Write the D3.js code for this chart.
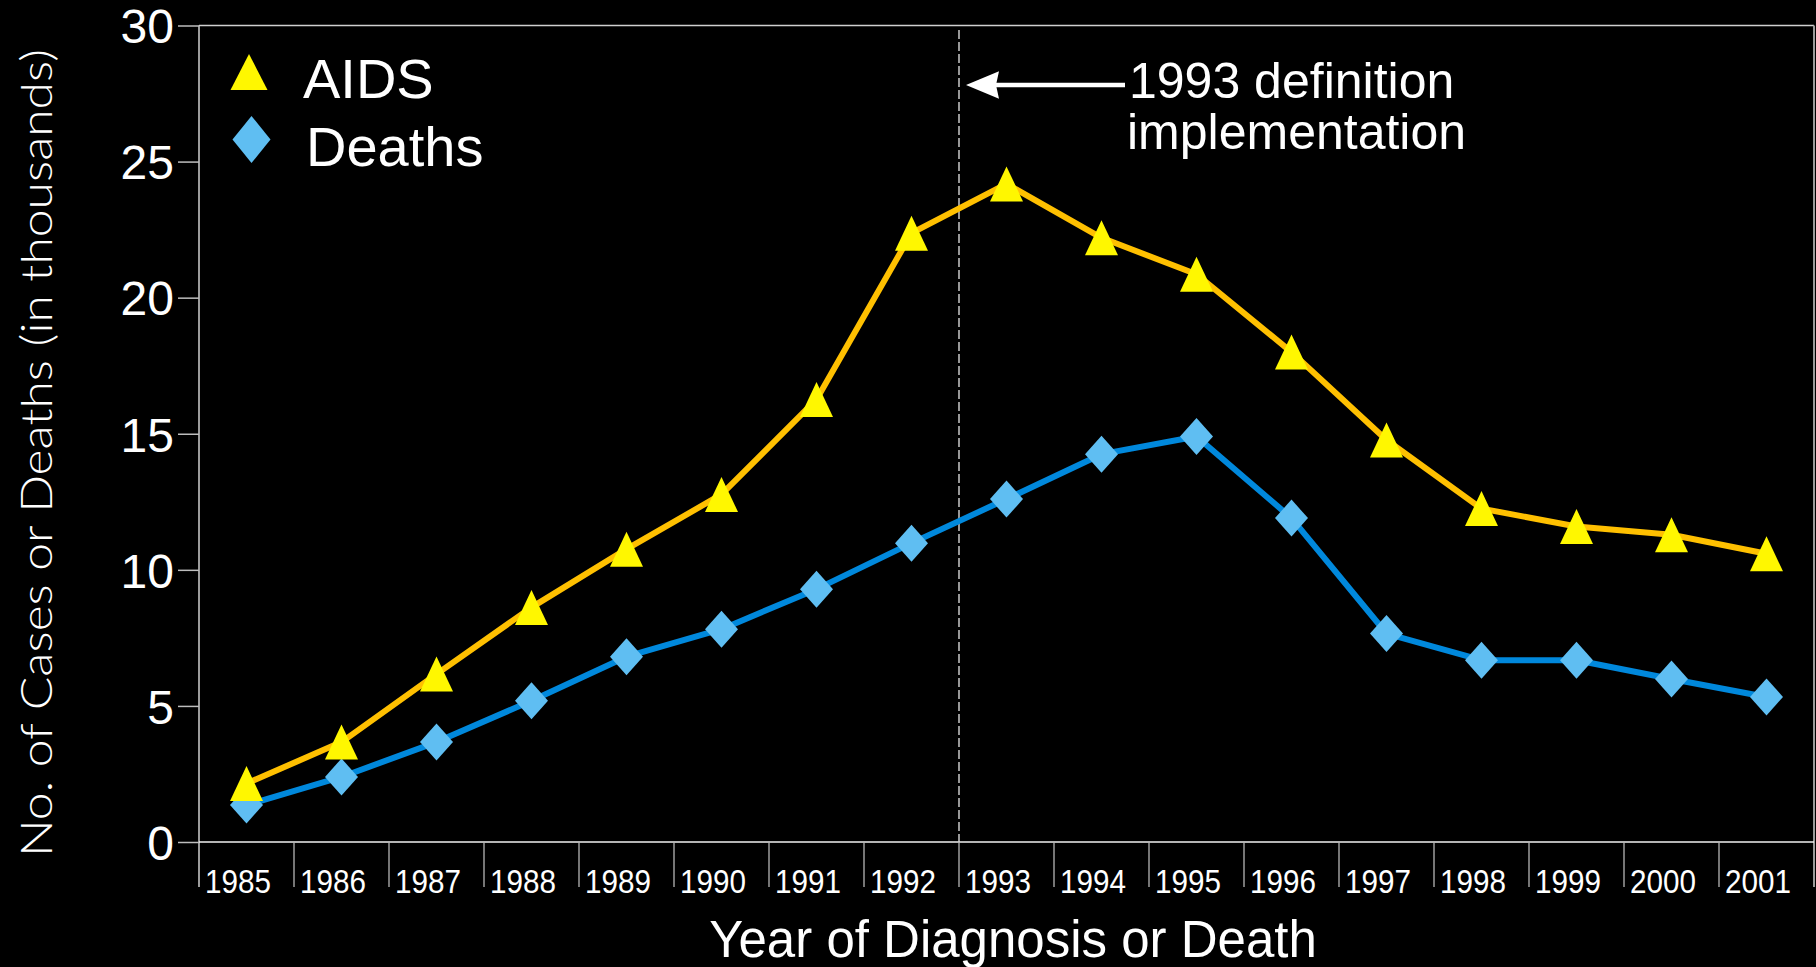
<!DOCTYPE html>
<html>
<head>
<meta charset="utf-8">
<script src="https://cdn.jsdelivr.net/npm/d3@7"></script>
<style>
  html, body { margin: 0; padding: 0; background: #000; }
  svg { display: block; }
  text { font-family: "Liberation Sans", Arial, sans-serif; fill: #fff; }
</style>
</head>
<body>
<svg id="chart" width="1816" height="967"></svg>
<script>
// values in thousands
const years = ['1985','1986','1987','1988','1989','1990','1991','1992','1993',
  '1994','1995','1996','1997','1998','1999','2000','2001']
const aidsCases = [2.15, 3.67, 6.17, 8.62, 10.76, 12.77, 16.26, 22.37, 24.18,
  22.2, 20.86, 18.0, 14.77, 12.25, 11.59, 11.29, 10.59]
const deaths = [1.36, 2.39, 3.67, 5.19, 6.81, 7.82, 9.29, 10.98, 12.6,
  14.25, 14.9, 11.9, 7.66, 6.68, 6.68, 5.99, 5.33]
const yTicks = [0, 5, 10, 15, 20, 25, 30]
const seriesNames = ['AIDS', 'Deaths']
const markerYear = '1993'

const plotLeft = 199, plotRight = 1814, plotTop = 25.5, plotBottom = 842

const svg = d3.select('#chart')

const x = d3.scaleBand().domain(years).range([plotLeft, plotRight]).padding(0)
const y = d3.scaleLinear().domain([0, 30]).range([plotBottom, plotTop])
const cx = d => x(d) + x.bandwidth() / 2

// frame: top and right border
svg.append('line').attr('x1', plotLeft).attr('x2', plotRight).attr('y1', plotTop).attr('y2', plotTop)
  .attr('stroke', '#cfcfcf').attr('stroke-width', 1.5)
svg.append('line').attr('x1', plotRight).attr('x2', plotRight).attr('y1', plotTop).attr('y2', 887)
  .attr('stroke', '#9a9a9a').attr('stroke-width', 2)

// y axis
const yAxis = svg.append('g')
  .attr('transform', `translate(${plotLeft},0)`)
  .call(d3.axisLeft(y).tickValues(yTicks).tickSize(21).tickSizeOuter(0).tickPadding(4))
yAxis.select('.domain').attr('stroke', '#d0d0d0').attr('stroke-width', 1.5)
  .attr('d', `M0,${plotTop}V887`)
yAxis.selectAll('.tick line').attr('stroke', '#bdbdbd').attr('stroke-width', 1.5)
yAxis.selectAll('.tick text')
  .attr('fill', '#fff')
  .style('font-size', '48px')
  .style('font-family', '"Liberation Sans", Arial, sans-serif')
  .attr('dy', '0.36em')

// x axis: baseline plus band boundary ticks
svg.append('line').attr('x1', plotLeft).attr('x2', plotRight).attr('y1', plotBottom).attr('y2', plotBottom)
  .attr('stroke', '#f0f0f0').attr('stroke-width', 1.5)
svg.append('g').selectAll('line')
  .data(years.slice(1))
  .enter().append('line')
  .attr('x1', d => x(d)).attr('x2', d => x(d))
  .attr('y1', plotBottom).attr('y2', 887)
  .attr('stroke', '#b5b5b5').attr('stroke-width', 1.3)
svg.append('g').selectAll('text')
  .data(years)
  .enter().append('text')
  .attr('x', d => x(d) + 6)
  .attr('y', 893)
  .attr('textLength', 66)
  .attr('lengthAdjust', 'spacingAndGlyphs')
  .style('font-family', '"Liberation Sans Narrow", "Arial Narrow", "Liberation Sans", Arial, sans-serif')
  .style('font-size', '34px')
  .text(d => d)

// 1993 definition line
svg.append('line')
  .attr('x1', x(markerYear)).attr('x2', x(markerYear))
  .attr('y1', 30).attr('y2', plotBottom)
  .attr('stroke', '#d8d8d8').attr('stroke-width', 1.4)
  .attr('stroke-dasharray', '9,3')

// arrow + annotation
svg.append('line').attr('x1', 995).attr('x2', 1125).attr('y1', 85).attr('y2', 85)
  .attr('stroke', '#fff').attr('stroke-width', 4.5)
svg.append('path').attr('d', 'M966,85 L999,71.3 L996,85 L999,98.7 Z').attr('fill', '#fff')
svg.append('text').attr('x', 1129).attr('y', 98).style('font-size', '50px').text('1993 definition')
svg.append('text').attr('x', 1127).attr('y', 149).style('font-size', '50px').text('implementation')

// series lines
const line = d3.line().x((d, i) => cx(years[i])).y(d => y(d))
svg.append('path').datum(aidsCases).attr('d', line)
  .attr('fill', 'none').attr('stroke', '#ffc000').attr('stroke-width', 6)
  .attr('stroke-linejoin', 'round')
svg.append('path').datum(deaths).attr('d', line)
  .attr('fill', 'none').attr('stroke', '#0088dc').attr('stroke-width', 6)
  .attr('stroke-linejoin', 'round')

function triangle(w, h) {
  return `M0,${-h / 2}L${w / 2},${h / 2}L${-w / 2},${h / 2}Z`
}
function diamond(w, h) {
  return `M0,${-h / 2}L${w / 2},0L0,${h / 2}L${-w / 2},0Z`
}

// markers
svg.append('g').selectAll('path')
  .data(deaths)
  .enter().append('path')
  .attr('d', diamond(33, 37))
  .attr('transform', (d, i) => `translate(${cx(years[i])},${y(d)})`)
  .attr('fill', '#5fbef2')
svg.append('g').selectAll('path')
  .data(aidsCases)
  .enter().append('path')
  .attr('d', triangle(33, 35))
  .attr('transform', (d, i) => `translate(${cx(years[i])},${y(d)})`)
  .attr('fill', '#fff700')

// legend
svg.append('path').attr('d', triangle(37, 36)).attr('transform', 'translate(249,72)').attr('fill', '#fff700')
svg.append('path').attr('d', diamond(38, 47)).attr('transform', 'translate(251.5,139.5)').attr('fill', '#5fbef2')
svg.append('text').attr('x', 303).attr('y', 98).style('font-size', '56px').text(seriesNames[0])
svg.append('text').attr('x', 306).attr('y', 166).style('font-size', '56px').text(seriesNames[1])

// axis titles
svg.append('text')
  .attr('x', 1013).attr('y', 957)
  .attr('text-anchor', 'middle')
  .style('font-size', '51px')
  .text('Year of Diagnosis or Death')
svg.append('text')
  .attr('transform', 'translate(52,453) rotate(-90)')
  .attr('text-anchor', 'middle')
  .attr('textLength', 808)
  .attr('lengthAdjust', 'spacingAndGlyphs')
  .style('font-family', 'Lato, "Open Sans", sans-serif')
  .style('font-weight', 300)
  .style('font-size', '43px')
  .text('No. of Cases or Deaths (in thousands)')
</script>
</body>
</html>
